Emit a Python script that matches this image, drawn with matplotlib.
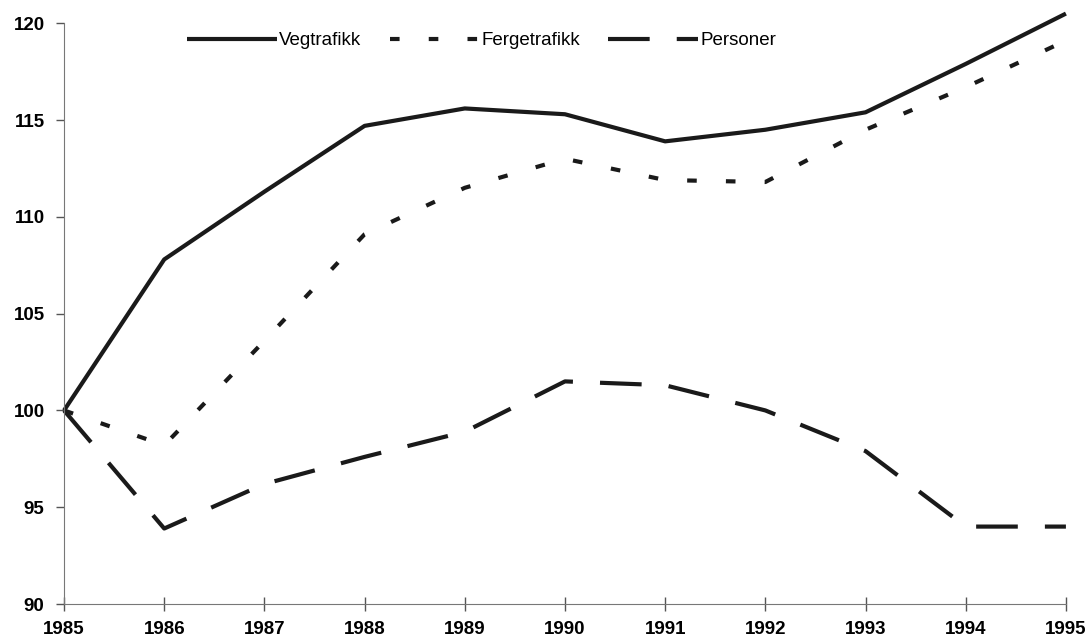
import matplotlib.pyplot as plt

# Data (index, 1985 = 100)
years = [1985, 1986, 1987, 1988, 1989, 1990, 1991, 1992, 1993, 1994, 1995]
vegtrafikk = [100, 107.8, 111.3, 114.7, 115.6, 115.3, 113.9, 114.5, 115.4, 117.9, 120.5]
fergetrafikk = [100, 98.2, 103.6, 109.1, 111.5, 113.0, 111.9, 111.8, 114.5, 116.7, 119.1]
personer = [100, 93.9, 96.2, 97.6, 98.9, 101.5, 101.3, 100.0, 97.9, 94.0, 94.0]
y_ticks = [90, 95, 100, 105, 110, 115, 120]

plt.rcParams['font.family'] = ['Liberation Sans', 'DejaVu Sans']

fig = plt.figure(figsize=(10.89, 6.41), dpi=100)
ax = fig.add_axes([0.0588, 0.0577, 0.920, 0.906])

lw = 3.0
ax.plot(years, vegtrafikk, color='#1a1a1a', lw=lw, solid_capstyle='butt',
        label='Vegtrafikk', clip_on=False)
ax.plot(years, fergetrafikk, color='#1a1a1a', lw=lw, dashes=(2.3, 7),
        label='Fergetrafikk', clip_on=False)
ax.plot(years, personer, color='#1a1a1a', lw=lw, dashes=(10, 6.5),
        label='Personer', clip_on=False)

ax.set_xlim(1985, 1995)
ax.set_ylim(90, 120)
ax.set_xticks(years)
ax.set_yticks(y_ticks)
ax.tick_params(axis='x', direction='inout', length=10, width=1, color='#555555',
               labelsize=13.5, pad=7)
ax.tick_params(axis='y', direction='out', length=6, width=1, color='#555555',
               labelsize=13.5, pad=8)
for lbl in ax.get_xticklabels() + ax.get_yticklabels():
    lbl.set_fontweight('bold')

ax.spines['top'].set_visible(False)
ax.spines['right'].set_visible(False)
ax.spines['left'].set_color('#777777')
ax.spines['bottom'].set_color('#777777')

ax.legend(loc='center', bbox_to_anchor=(0.417, 0.97), ncol=3, frameon=False,
          handlelength=4.8, handletextpad=0.1, columnspacing=1.5, fontsize=13.5)

fig.savefig('out.png', dpi=100)
